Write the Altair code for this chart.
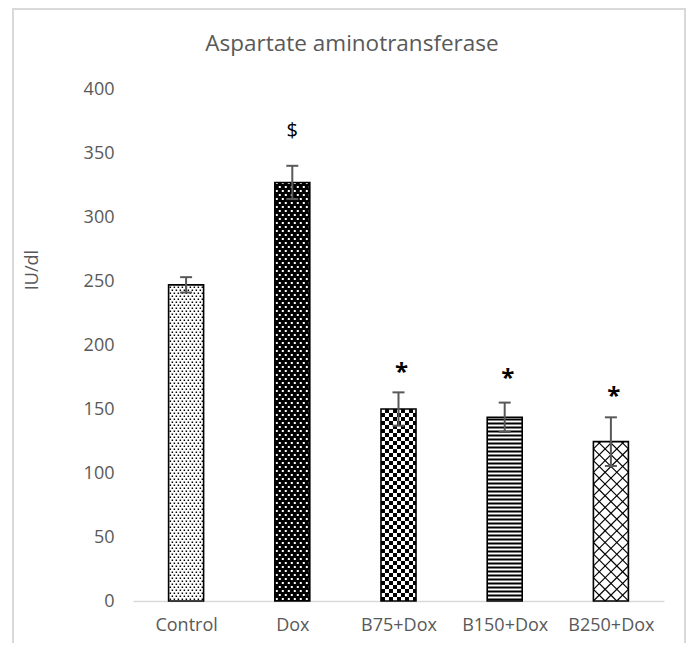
import json
import altair as alt
import pandas as pd

# ---- data ----
categories = ["Control", "Dox", "B75+Dox", "B150+Dox", "B250+Dox"]
means = [247, 327, 150, 143.5, 124.5]
errors = [6, 13, 13, 11.5, 19]
sig_labels = ["", "$", "*", "*", "*"]
sig_heights = [None, 367, 181, 176.5, 162.5]
patterns = ["fine_dots", "white_dots", "checker", "hstripes", "diamond"]
y_ticks = [0, 50, 100, 150, 200, 250, 300, 350, 400]
chart_title = "Aspartate aminotransferase"
y_title = "IU/dl"

# ---- layout ----
W, H = 531, 512
YMAX = 400
N = len(categories)
BAR_PX = 35
CAP_PX = 12
px_x = N / W
px_y = YMAX / H
FONT = "Open Sans"
GREY = "#595959"
FRAME = "#d9d9d9"
PAD_L, PAD_T, PAD_R, PAD_B = 125, 81, 22, 42

bars = pd.DataFrame({
    "cat": categories, "mean": means, "err": errors, "idx": range(N),
    "pat": patterns,
})
bars["c"] = bars["idx"] + 0.5
bars["xl"] = bars["c"] - BAR_PX / 2 * px_x
bars["xr"] = bars["c"] + BAR_PX / 2 * px_x
bars["capl"] = bars["c"] - CAP_PX / 2 * px_x
bars["capr"] = bars["c"] + CAP_PX / 2 * px_x
bars["lo"] = bars["mean"] - bars["err"]
bars["hi"] = bars["mean"] + bars["err"]
bars["fill"] = ["black" if p == "white_dots" else "white" for p in patterns]

# ---- pattern textures (pixel space relative to each bar) ----
def clip_rect(x0, x1, y0, y1, w, h):
    x0, x1 = max(0, x0), min(w, x1)
    y0, y1 = max(0, y0), min(h, y1)
    if x1 - x0 > 0.2 and y1 - y0 > 0.2:
        return (x0, x1, y0, y1)
    return None

def grid(w, h, cw, ch, px, py, stagger):
    out = []
    r = 0
    y = 1.0
    while y < h:
        off = (r % 2) * stagger
        x = off - px + 1.0
        while x < w:
            rc = clip_rect(x, x + cw, y, y + ch, w, h)
            if rc:
                out.append(rc)
            x += px
        y += py
        r += 1
    return out

def checker(w, h, c):
    out = []
    r = 0
    y = 0.0
    while y < h:
        k = 0
        x = 0.0
        while x < w:
            if (r + k) % 2 == 0:
                rc = clip_rect(x, x + c, y, y + c, w, h)
                if rc:
                    out.append(rc)
            x += c
            k += 1
        y += c
        r += 1
    return out

def stripes(w, h, pitch, th):
    out = []
    y = 0.5
    while y < h:
        rc = clip_rect(0, w, y, y + th, w, h)
        if rc:
            out.append(rc)
        y += pitch
    return out

def diag_lines(w, h, period):
    segs = []
    k = -int(h / period) - 2
    while k * period < w + h + period:
        b = k * period
        xa, xb = max(0, b), min(w, h + b)
        if xb - xa > 0.3:
            segs.append((xa, xa - b, xb, xb - b))
        xa, xb = max(0, b - h), min(w, b)
        if xb - xa > 0.3:
            segs.append((xa, b - xa, xb, b - xb))
        k += 1
    return segs

rect_rows = []
line_rows = []
for _, row in bars.iterrows():
    w = BAR_PX
    h = row["mean"] / px_y
    p = row["pat"]
    if p == "fine_dots":
        rs, col = grid(w, h, 1.5, 1.5, 4, 3, 2), "black"
    elif p == "white_dots":
        rs, col = grid(w, h, 2, 2, 6, 4, 3), "white"
    elif p == "checker":
        rs, col = checker(w, h, 4), "black"
    elif p == "hstripes":
        rs, col = stripes(w, h, 4, 2), "black"
    else:
        rs, col = [], "black"
        for (x0, y0, x1, y1) in diag_lines(w, h, 11.7):
            line_rows.append({
                "x": row["xl"] + x0 * px_x, "y": y0 * px_y,
                "x2": row["xl"] + x1 * px_x, "y2": y1 * px_y,
            })
    for (x0, x1, y0, y1) in rs:
        rect_rows.append({
            "x": row["xl"] + x0 * px_x, "x2": row["xl"] + x1 * px_x,
            "y": y0 * px_y, "y2": y1 * px_y, "col": col,
        })
rects = pd.DataFrame(rect_rows)
lines = pd.DataFrame(line_rows)

# ---- scales / axes ----
xscale = alt.Scale(domain=[0, N], nice=False, zero=False)
yscale = alt.Scale(domain=[0, YMAX], nice=False)
label_expr = json.dumps(categories) + "[floor(datum.value)]"
xaxis = alt.Axis(
    values=[i + 0.5 for i in range(N)], labelExpr=label_expr, title=None,
    ticks=False, grid=False, domainColor=FRAME, domainWidth=1.5,
    labelFont=FONT, labelFontSize=18, labelColor=GREY, labelPadding=15,
)
yaxis = alt.Axis(
    values=y_ticks, title=None, ticks=False, grid=False, domain=False,
    labelFont=FONT, labelFontSize=18, labelColor=GREY, labelPadding=19,
)

def X(f):
    return alt.X(f, scale=xscale, axis=xaxis)

def Y(f):
    return alt.Y(f, scale=yscale, axis=yaxis)

base_bar = alt.Chart(bars)

fills = base_bar.mark_rect(strokeWidth=0).encode(
    x=X("xl:Q"), x2="xr",
    y=Y("mean:Q"), y2=alt.datum(0),
    fill=alt.Fill("fill:N", scale=None),
)

pattern_rects = alt.Chart(rects).mark_rect(strokeWidth=0).encode(
    x=X("x:Q"), x2="x2",
    y=Y("y:Q"), y2="y2",
    fill=alt.Fill("col:N", scale=None),
)

pattern_lines = alt.Chart(lines).mark_rule(color="black", strokeWidth=1.2).encode(
    x=X("x:Q"), x2="x2",
    y=Y("y:Q"), y2="y2",
)

outlines = base_bar.mark_rect(fillOpacity=0, stroke="black", strokeWidth=1.6).encode(
    x=X("xl:Q"), x2="xr",
    y=Y("mean:Q"), y2=alt.datum(0),
)

err_v = base_bar.mark_rule(color=GREY, strokeWidth=2).encode(
    x=X("c:Q"), y=Y("lo:Q"), y2="hi",
)
err_top = base_bar.mark_rule(color=GREY, strokeWidth=2).encode(
    x=X("capl:Q"), x2="capr", y=Y("hi:Q"),
)
err_bot = base_bar.mark_rule(color=GREY, strokeWidth=2).encode(
    x=X("capl:Q"), x2="capr", y=Y("lo:Q"),
)

sig = pd.DataFrame({"c": bars["c"], "lab": sig_labels, "h": sig_heights}).dropna()
sig_dollar = alt.Chart(sig[sig["lab"] == "$"]).mark_text(
    font=FONT, fontSize=20, color="black", baseline="middle"
).encode(x=X("c:Q"), y=Y("h:Q"), text="lab:N")
sig_star = alt.Chart(sig[sig["lab"] == "*"]).mark_text(
    font=FONT, fontSize=24, fontWeight="bold", color="black", baseline="middle", dx=3, dy=4
).encode(x=X("c:Q"), y=Y("h:Q"), text="lab:N")

title_layer = alt.Chart(pd.DataFrame({"t": [chart_title]})).mark_text(
    font=FONT, fontSize=22.5, color=GREY, baseline="middle", align="center"
).encode(x=alt.value(219), y=alt.value(-45), text="t:N")

ytitle_layer = alt.Chart(pd.DataFrame({"t": [y_title]})).mark_text(
    font=FONT, fontSize=18, color=GREY, baseline="middle", align="center", angle=270
).encode(x=alt.value(-100), y=alt.value(181), text="t:N")

right_x = W + PAD_R - 1
frame_data = alt.Chart(pd.DataFrame({"k": [0]}))
frame_left = frame_data.mark_rule(color=FRAME, strokeWidth=2).encode(
    x=alt.value(-120), y=alt.value(-81), y2=alt.value(570))
frame_right = frame_data.mark_rule(color=FRAME, strokeWidth=2).encode(
    x=alt.value(right_x), y=alt.value(-81), y2=alt.value(570))
frame_top = frame_data.mark_rule(color=FRAME, strokeWidth=2).encode(
    x=alt.value(-120), x2=alt.value(right_x), y=alt.value(-80))

chart = alt.layer(
    frame_left, frame_right, frame_top,
    fills, pattern_rects, pattern_lines, outlines,
    err_v, err_top, err_bot, sig_dollar, sig_star,
    title_layer, ytitle_layer,
).properties(
    width=W, height=H,
    autosize=alt.AutoSizeParams(type="none"),
    padding={"left": PAD_L, "top": PAD_T, "right": PAD_R, "bottom": PAD_B},
).configure_view(stroke=None)

chart.save("out.html", embed_options={"renderer": "svg", "actions": False})
